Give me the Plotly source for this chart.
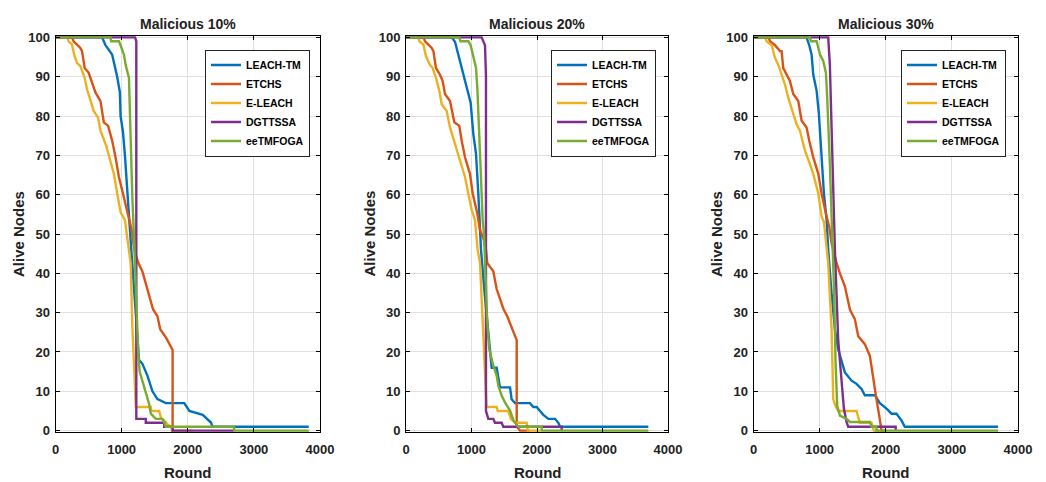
import plotly.graph_objects as go

# curve data (round vs alive nodes)
names = ['LEACH-TM', 'ETCHS', 'E-LEACH', 'DGTTSSA', 'eeTMFOGA']
colors = ['#0072BD', '#D95319', '#EDB120', '#7E2F8E', '#77AC30']
titles = ['Malicious 10%', 'Malicious 20%', 'Malicious 30%']

# Malicious 10%
leach_tm_10_x = [0, 705, 756, 857, 933, 974, 984, 1020, 1050, 1096, 1126, 1146, 1190, 1263, 1314, 1390, 1466, 1542, 1669, 1948, 2024, 2227, 2354, 2370, 3830]
leach_tm_10_y = [100, 100, 98, 95.6, 90, 86, 80, 76, 70, 60, 51, 46, 35, 18, 17, 14, 10, 8, 7, 7, 5, 4, 2, 1, 1]
etchs_10_x = [0, 250, 274, 376, 401, 441, 502, 543, 604, 680, 731, 796, 857, 908, 959, 1020, 1085, 1152, 1192, 1253, 1314, 1390, 1476, 1542, 1583, 1669, 1746, 1771, 1771, 1800]
etchs_10_y = [100, 100, 99, 97.3, 96.5, 92.2, 91, 88.9, 86, 83.8, 78.4, 77.5, 73.7, 69.5, 64.5, 60.3, 55.6, 51, 46, 42.6, 40.5, 35.9, 30.8, 29.1, 25.8, 23.7, 21.1, 20.5, 0, 0]
e_leach_10_x = [0, 180, 198, 248, 289, 325, 376, 441, 477, 528, 578, 644, 680, 766, 832, 883, 933, 984, 1050, 1111, 1137, 1162, 1202, 1215, 1441, 1450, 1568, 1600, 1644, 1700, 1750, 1760, 2075]
e_leach_10_y = [100, 100, 99, 98.2, 95.2, 93.5, 92.7, 89.7, 86.8, 83.8, 81.3, 79.6, 76.3, 72.5, 68.7, 65.3, 60.3, 55.6, 53.5, 46, 42.6, 26.6, 8.9, 6, 6, 5, 5, 3, 2.6, 1.5, 1, 0, 0]
dgttssa_10_x = [0, 1202, 1222, 1222, 1365, 1365, 1644, 1644, 1771, 1771, 2700]
dgttssa_10_y = [100, 100, 99, 3, 3, 2, 2, 1, 1, 0, 0]
eetmfoga_10_x = [0, 832, 840, 959, 984, 1035, 1061, 1111, 1126, 1146, 1162, 1190, 1222, 1250, 1273, 1339, 1390, 1415, 1441, 1517, 1618, 1669, 2700, 2700, 3830]
eetmfoga_10_y = [100, 100, 99, 99, 98, 95.6, 93, 89.7, 80.5, 67.8, 59.4, 48, 30, 20, 15, 11.4, 8.5, 6.8, 4.3, 3, 3, 1, 1, 0, 0]

# Malicious 20%
leach_tm_20_x = [0, 697, 748, 799, 850, 901, 951, 987, 1028, 1069, 1104, 1130, 1145, 1200, 1260, 1308, 1384, 1435, 1588, 1613, 1664, 1893, 1944, 1995, 2046, 2097, 2173, 2275, 2326, 2351, 3700]
leach_tm_20_y = [100, 100, 98.9, 95.6, 93, 89.7, 86, 83.4, 75.4, 70.4, 60.3, 51, 46, 35, 25, 16, 16, 11, 11, 8, 7, 7, 6, 6, 5, 4, 3, 3, 2, 1, 1]
etchs_20_x = [0, 270, 290, 392, 418, 458, 519, 560, 595, 672, 738, 814, 850, 901, 977, 1018, 1089, 1130, 1180, 1221, 1241, 1333, 1384, 1486, 1547, 1613, 1664, 1690, 1690, 1740, 1893]
etchs_20_y = [100, 100, 99, 97.3, 96.5, 92.2, 90.5, 88.9, 85.6, 83.8, 78.4, 77.5, 73.7, 69.5, 65.3, 60.3, 55.2, 51, 49, 46, 42.6, 40.5, 36, 31, 29, 26, 24, 23, 1, 0, 0]
e_leach_20_x = [0, 185, 204, 265, 305, 366, 407, 458, 509, 545, 621, 672, 748, 824, 901, 951, 1003, 1053, 1094, 1130, 1180, 1221, 1230, 1384, 1400, 1562, 1600, 1664, 1842, 1860, 2046]
e_leach_20_y = [100, 100, 99, 98.2, 95.2, 93, 92.2, 89.7, 86.4, 83, 81.3, 77.1, 72.9, 68.7, 64.5, 60.3, 56.1, 53.5, 46, 42.6, 25.8, 8.9, 6, 6, 5, 5, 3, 2, 2, 0, 0]
dgttssa_20_x = [0, 1155, 1206, 1221, 1221, 1257, 1333, 1359, 1460, 1486, 2377, 2377]
dgttssa_20_y = [100, 100, 98, 90, 5, 3, 3, 2, 2, 1, 1, 0]
eetmfoga_20_x = [0, 814, 830, 952, 987, 1038, 1069, 1089, 1115, 1145, 1171, 1191, 1206, 1241, 1272, 1333, 1384, 1410, 1460, 1511, 1588, 1640, 1715, 2071, 2071, 3700]
eetmfoga_20_y = [100, 100, 99, 99, 98, 94, 92.2, 87.2, 76.3, 63.6, 53.5, 50, 42, 27.4, 20.7, 16.5, 14, 11.4, 8.9, 7.2, 5.1, 2.6, 1, 1, 0, 0]

# Malicious 30%
leach_tm_30_x = [0, 803, 843, 879, 904, 955, 989, 1030, 1065, 1106, 1130, 1180, 1231, 1281, 1382, 1483, 1558, 1634, 1684, 1836, 1911, 2012, 2088, 2162, 2238, 2288, 3698]
leach_tm_30_y = [100, 100, 98, 95.6, 90.5, 86.4, 80.5, 67.8, 60.3, 53.5, 46, 35, 25.8, 20.7, 14.8, 12.7, 11.9, 10.6, 9, 9, 7, 5.6, 4.3, 4.3, 2.6, 1, 1]
etchs_30_x = [0, 230, 249, 325, 400, 425, 450, 500, 551, 601, 677, 728, 803, 843, 904, 980, 1030, 1095, 1146, 1181, 1220, 1257, 1307, 1382, 1458, 1533, 1584, 1684, 1760, 1810, 1851, 1901, 1926, 1936, 2012]
etchs_30_y = [100, 100, 99, 98, 96.5, 96.5, 92.2, 90.5, 88.9, 85.6, 83.8, 78.8, 77.1, 73.7, 69.5, 65.3, 60.3, 55.2, 51.8, 47.6, 45, 42.6, 40, 36.7, 30.8, 28.3, 24, 22, 19, 13.1, 8.9, 3.8, 1.3, 0, 0]
e_leach_30_x = [0, 180, 199, 274, 325, 375, 425, 476, 526, 576, 652, 702, 778, 853, 904, 980, 1030, 1065, 1106, 1130, 1181, 1206, 1246, 1281, 1558, 1590, 1608, 1785, 1820, 1900]
e_leach_30_y = [100, 100, 99, 98, 94.8, 93, 90.5, 88, 84.6, 82.1, 77.9, 76.3, 71.2, 67.8, 65.3, 60.3, 54.4, 53.1, 46, 42.6, 25.8, 8, 6, 5, 5, 3, 2, 2, 0, 0]
dgttssa_30_x = [0, 1130, 1155, 1196, 1231, 1281, 1332, 1367, 1407, 1432, 2150, 2150]
dgttssa_30_y = [100, 100, 93, 67.8, 46, 23, 13.1, 5.6, 2.2, 1, 1, 0]
eetmfoga_30_x = [0, 853, 870, 955, 1005, 1055, 1095, 1115, 1155, 1196, 1221, 1241, 1266, 1307, 1407, 1458, 1760, 1785, 1860, 1860, 3698]
eetmfoga_30_y = [100, 100, 99, 99, 95.6, 94, 91, 84.6, 67.8, 46, 34.2, 17.3, 6.3, 3.8, 3, 2.2, 2.2, 1, 1, 0, 0]

panels = [
    [(leach_tm_10_x, leach_tm_10_y), (etchs_10_x, etchs_10_y), (e_leach_10_x, e_leach_10_y),
     (dgttssa_10_x, dgttssa_10_y), (eetmfoga_10_x, eetmfoga_10_y)],
    [(leach_tm_20_x, leach_tm_20_y), (etchs_20_x, etchs_20_y), (e_leach_20_x, e_leach_20_y),
     (dgttssa_20_x, dgttssa_20_y), (eetmfoga_20_x, eetmfoga_20_y)],
    [(leach_tm_30_x, leach_tm_30_y), (etchs_30_x, etchs_30_y), (e_leach_30_x, e_leach_30_y),
     (dgttssa_30_x, dgttssa_30_y), (eetmfoga_30_x, eetmfoga_30_y)],
]

x_ticks = [0, 1000, 2000, 3000, 4000]
y_ticks = [0, 10, 20, 30, 40, 50, 60, 70, 80, 90, 100]

# the page puts the plot 8px in from the window corner, so the figure is
# 8px smaller and every position below is in window pixels minus that offset
OFF = 8
W, H = 1046 - OFF, 482 - OFF
areas = [(55.5, 320), (406, 668), (753.5, 1018)]
top_px, bot_px = 36, 432
legend_right = [310, 656, 1006]


def px(x):
    return (x - OFF) / W


def py(y):
    return 1 - (y - OFF) / H


FONT = 'Liberation Sans, Arial, sans-serif'

fig = go.Figure()
for i, series in enumerate(panels):
    sfx = '' if i == 0 else str(i + 1)
    for name, color, (xs, ys) in zip(names, colors, series):
        fig.add_trace(go.Scatter(
            x=xs, y=ys, mode='lines', name=name,
            line=dict(color=color, width=2.4),
            xaxis='x' + sfx, yaxis='y' + sfx, legend='legend' + sfx,
        ))

layout = dict(
    template='none',
    width=W, height=H,
    margin=dict(l=0, r=0, t=0, b=0, autoexpand=False),
    paper_bgcolor='white', plot_bgcolor='white',
    font=dict(family=FONT, color='black'),
    showlegend=True,
    annotations=[],
)

for i, (l, r) in enumerate(areas):
    sfx = '' if i == 0 else str(i + 1)
    common = dict(
        showline=True, linecolor='black', linewidth=1, mirror='ticks',
        ticks='inside', ticklen=4, tickcolor='black',
        showgrid=True, gridcolor='#e0e0e0', gridwidth=1,
        zeroline=False, automargin=False,
        tickfont=dict(family=FONT, size=13, color='#222', weight='bold'),
    )
    layout['xaxis' + sfx] = dict(
        common, domain=[px(l), px(r)], range=[0, 4000], tickvals=x_ticks,
        anchor='y' + sfx, ticklabelstandoff=5,
    )
    layout['yaxis' + sfx] = dict(
        common, domain=[py(bot_px), py(top_px)], range=[-0.35, 100.35],
        tickvals=y_ticks, anchor='x' + sfx, ticklabelstandoff=2,
    )
    layout['legend' + sfx] = dict(
        x=px(legend_right[i]), y=py(49.5), xanchor='right', yanchor='top',
        bgcolor='white', bordercolor='#222', borderwidth=1,
        font=dict(family=FONT, size=10.5, color='black', weight='bold'),
        itemwidth=30, tracegroupgap=0,
    )
    cx = px((l + r) / 2)
    layout['annotations'] += [
        dict(text=titles[i], x=cx, y=py(24), xref='paper', yref='paper',
             xanchor='center', yanchor='middle',
             showarrow=False, font=dict(size=14, weight='bold', color='#222')),
        dict(text='Round', x=cx, y=py(472), xref='paper', yref='paper',
             xanchor='center', yanchor='middle',
             showarrow=False, font=dict(size=15, weight='bold', color='#222')),
        dict(text='Alive Nodes', x=px(l - 36.5), y=py(234), xref='paper', yref='paper',
             xanchor='center', yanchor='middle',
             showarrow=False, textangle=-90, font=dict(size=15, weight='bold', color='#222')),
    ]

fig.update_layout(layout)
fig.write_html('out.html')
